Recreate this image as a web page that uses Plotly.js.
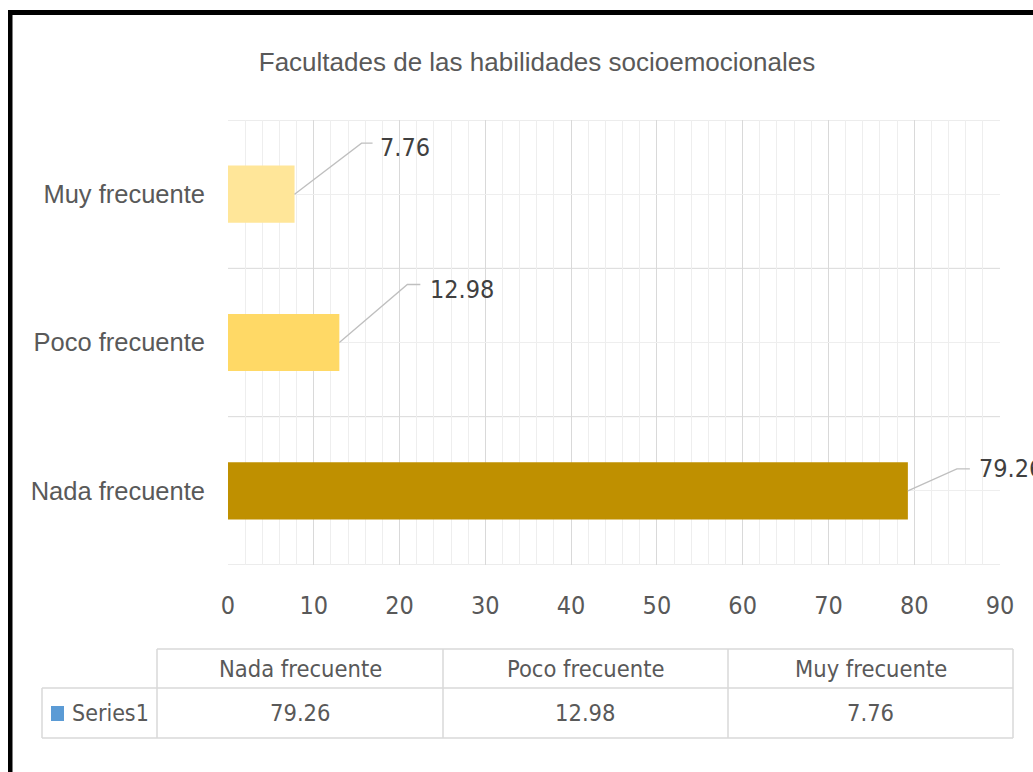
<!DOCTYPE html>
<html>
<head>
<meta charset="utf-8">
<script src="https://cdn.plot.ly/plotly-3.0.1.min.js"></script>
<style>html,body{margin:0;padding:0;background:#fff;}#chart{width:1033px;height:772px;}</style>
</head>
<body>
<div id="chart"></div>
<script>
// ---- data ----
const categories = ["Nada frecuente", "Poco frecuente", "Muy frecuente"];
const values = [79.26, 12.98, 7.76];
const seriesName = "Series1";
const barColors = ["#BF9000", "#FFD966", "#FFE699"];
const xTicks = [0, 10, 20, 30, 40, 50, 60, 70, 80, 90];

// ---- styling / geometry ----
const W = 1033, H = 772;
const L = 228, R = 1000, T = 120, B = 565;
const FONT_ARIAL = "'Liberation Sans', Arial, sans-serif";
const FONT_CAL = "'DejaVu Sans Condensed', 'DejaVu Sans', sans-serif";
const textGrey = "#595959";
const gridMajor = "#d9d9d9";
const gridMinor = "#eeeeee";
const px = x => (x - L) / (R - L);
const py = y => (B - y) / (B - T);

// leader line offsets (pixels, relative to bar end) and label offsets
const leader = [
  {dx: 49, dy: 22, h: 13, tx: 69, ty: 22},
  {dx: 68, dy: 58, h: 13, tx: 89, ty: 53},
  {dx: 67, dy: 51, h: 11, tx: 83, ty: 47}
];

const trace = {
  type: "bar",
  orientation: "h",
  x: values,
  y: categories,
  name: seriesName,
  width: 0.385,
  marker: {color: barColors, line: {width: 0}},
  hoverinfo: "x+y"
};

const shapes = [];
const annotations = [];

// category boundary gridlines
for (let i = 0; i <= categories.length; i++) {
  shapes.push({type: "line", xref: "x", yref: "y", x0: 0, x1: 90, y0: i - 0.5, y1: i - 0.5,
    line: {color: gridMajor, width: 1}, layer: "below"});
}

// leader lines and data labels
values.forEach((v, i) => {
  const o = leader[i];
  shapes.push({type: "path", xref: "x", yref: "y", xsizemode: "pixel", ysizemode: "pixel",
    xanchor: v, yanchor: i,
    path: `M0,0 L${o.dx},${o.dy} L${o.dx + o.h},${o.dy}`,
    line: {color: "#bfbfbf", width: 1.3}, layer: "above"});
  annotations.push({x: v, y: categories[i], xref: "x", yref: "y", text: String(v),
    showarrow: false, xanchor: "left", yanchor: "middle", xshift: o.tx, yshift: o.ty,
    font: {family: FONT_CAL, size: 25, color: "#404040"}});
});

// outer black frame
shapes.push({type: "rect", xref: "paper", yref: "paper", x0: px(8), x1: px(1040), y0: py(15), y1: py(10),
  fillcolor: "#000", line: {width: 0}, layer: "above"});
shapes.push({type: "rect", xref: "paper", yref: "paper", x0: px(8), x1: px(12.5), y0: py(790), y1: py(10),
  fillcolor: "#000", line: {width: 0}, layer: "above"});

// data table
const tblCols = [157, 443, 728, 1013];
const tblLeft = 42, tblTop = 649, tblMid = 688, tblBot = 738;
const tline = (x0, y0, x1, y1) => shapes.push({type: "line", xref: "paper", yref: "paper",
  x0: px(x0), x1: px(x1), y0: py(y0), y1: py(y1), line: {color: gridMajor, width: 1.5}});
tline(tblCols[0], tblTop, tblCols[3], tblTop);
tline(tblLeft, tblMid, tblCols[3], tblMid);
tline(tblLeft, tblBot, tblCols[3], tblBot);
tline(tblLeft, tblMid, tblLeft, tblBot);
tblCols.forEach(c => tline(c, tblTop, c, tblBot));

categories.forEach((c, i) => {
  const cx = (tblCols[i] + tblCols[i + 1]) / 2;
  annotations.push({xref: "paper", yref: "paper", x: px(cx), y: py((tblTop + tblMid) / 2),
    text: c, showarrow: false, xanchor: "center", yanchor: "middle",
    font: {family: FONT_CAL, size: 23.5, color: textGrey}});
  annotations.push({xref: "paper", yref: "paper", x: px(cx), y: py((tblMid + tblBot) / 2),
    text: String(values[i]), showarrow: false, xanchor: "center", yanchor: "middle",
    font: {family: FONT_CAL, size: 23.5, color: textGrey}});
});
// legend key + series name
shapes.push({type: "rect", xref: "paper", yref: "paper", x0: px(51), x1: px(64), y0: py(721), y1: py(706),
  fillcolor: "#5B9BD5", line: {width: 0}});
annotations.push({xref: "paper", yref: "paper", x: px(70), y: py(713), text: seriesName,
  showarrow: false, xanchor: "left", yanchor: "middle",
  font: {family: FONT_CAL, size: 23, color: textGrey}});

const layout = {
  width: W, height: H,
  margin: {l: L, r: W - R, t: T, b: H - B, pad: 0},
  paper_bgcolor: "#fff", plot_bgcolor: "#fff",
  showlegend: false,
  title: {text: "Facultades de las habilidades socioemocionales", x: 537 / W, xanchor: "center",
    y: 1 - 62 / H, yanchor: "middle",
    font: {family: FONT_ARIAL, size: 26, color: textGrey}},
  xaxis: {range: [0, 90], tickvals: xTicks, ticktext: xTicks.map(String), showgrid: true,
    gridcolor: gridMajor, gridwidth: 1, zeroline: false, showline: false, ticks: "",
    ticklabelstandoff: 23, fixedrange: true,
    tickfont: {family: FONT_CAL, size: 25, color: textGrey},
    minor: {dtick: 2, tick0: 0, showgrid: true, gridcolor: gridMinor, gridwidth: 1, ticks: ""}},
  yaxis: {type: "category", categoryorder: "array", categoryarray: categories, range: [-0.5, 2.5],
    showgrid: true, gridcolor: gridMinor, zeroline: false, showline: false, ticks: "",
    ticklabelstandoff: 22, fixedrange: true,
    tickfont: {family: FONT_ARIAL, size: 25.5, color: textGrey}},
  shapes: shapes,
  annotations: annotations,
  bargap: 0.6
};

Plotly.newPlot("chart", [trace], layout, {displayModeBar: false, staticPlot: true});
</script>
</body>
</html>
